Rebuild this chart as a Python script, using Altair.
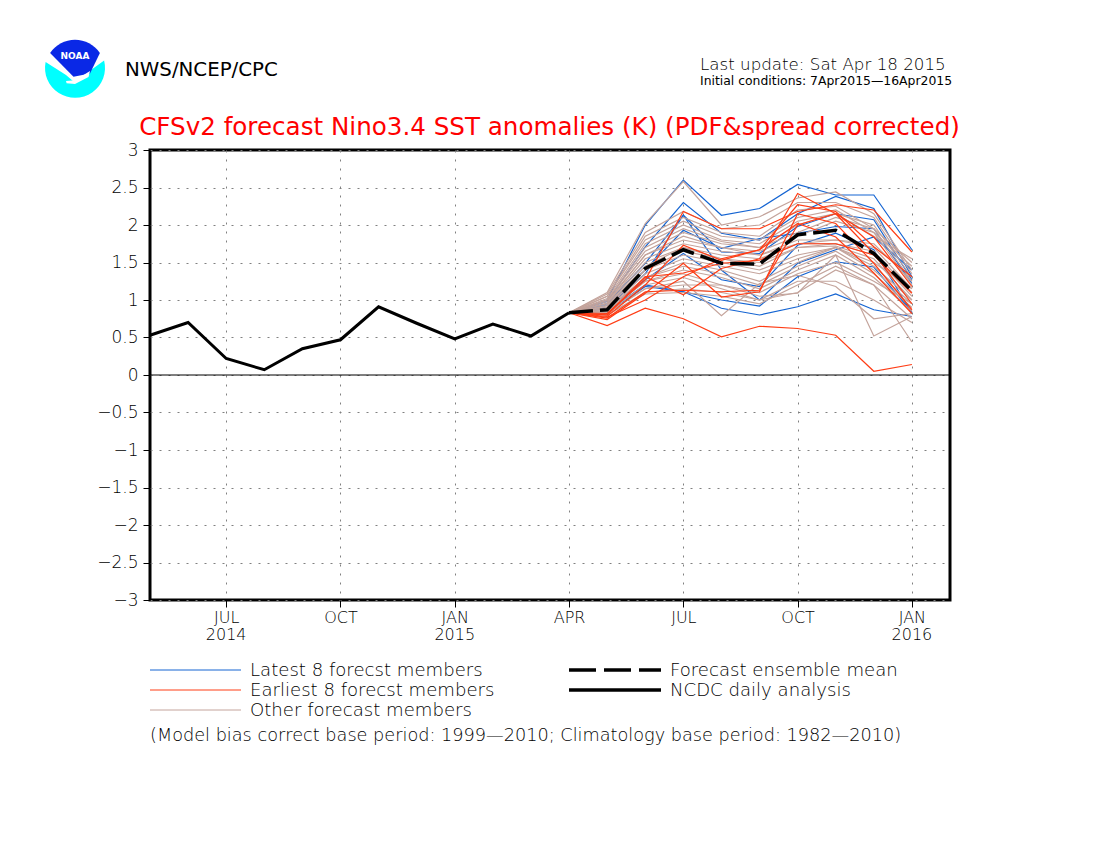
import altair as alt
import pandas as pd

# month index: 0 = May 2014 ... 21 = Feb 2016
x_tick_months = [2, 5, 8, 11, 14, 17, 20]
x_tick_labels = ["JUL", "OCT", "JAN", "APR", "JUL", "OCT", "JAN"]
year_months = [2, 8, 20]
year_labels = ["2014", "2015", "2016"]
y_ticks = [-3, -2.5, -2, -1.5, -1, -0.5, 0, 0.5, 1, 1.5, 2, 2.5, 3]

analysis_months = list(range(0, 12))
analysis_values = [0.53, 0.70, 0.22, 0.07, 0.35, 0.47, 0.91, 0.69, 0.48, 0.68, 0.52, 0.83]

forecast_months = list(range(11, 21))
mean_values = [0.83, 0.87, 1.42, 1.67, 1.49, 1.48, 1.87, 1.93, 1.62, 1.12]

latest_members = [
    [0.83, 1.00, 2.00, 2.60, 2.13, 2.22, 2.54, 2.40, 2.40, 1.67],
    [0.83, 0.98, 1.71, 2.30, 1.89, 1.80, 2.15, 2.38, 2.22, 1.31],
    [0.83, 0.95, 1.49, 2.13, 1.64, 1.62, 1.98, 2.15, 2.07, 1.27],
    [0.83, 0.93, 1.40, 1.93, 1.69, 1.82, 1.89, 1.98, 1.95, 1.22],
    [0.83, 0.90, 1.35, 2.13, 1.40, 1.00, 1.49, 1.67, 1.84, 1.40],
    [0.83, 0.88, 1.27, 1.62, 1.27, 1.18, 1.73, 1.89, 1.67, 0.82],
    [0.83, 0.82, 1.18, 1.11, 0.89, 0.80, 0.91, 1.08, 0.87, 0.78],
    [0.83, 0.85, 1.20, 1.11, 1.00, 0.92, 1.31, 1.51, 1.44, 0.84],
]
earliest_members = [
    [0.83, 0.66, 0.89, 0.75, 0.51, 0.65, 0.62, 0.53, 0.05, 0.14],
    [0.83, 0.82, 1.27, 2.18, 1.95, 1.95, 2.18, 2.27, 2.20, 1.64],
    [0.83, 0.80, 1.31, 1.07, 1.42, 1.55, 2.42, 2.15, 1.62, 0.95],
    [0.83, 0.78, 1.20, 1.73, 1.53, 1.67, 2.27, 2.18, 1.71, 1.31],
    [0.83, 0.76, 1.11, 1.13, 1.11, 1.13, 2.00, 2.15, 1.84, 1.18],
    [0.83, 0.80, 1.31, 1.36, 1.49, 1.53, 1.75, 1.75, 1.60, 1.09],
    [0.83, 0.74, 1.09, 1.49, 1.04, 1.11, 2.15, 2.02, 1.49, 0.87],
    [0.83, 0.77, 1.00, 1.31, 1.55, 1.67, 2.02, 1.84, 1.36, 0.82],
]
other_members = [
    [0.83, 1.10, 2.02, 2.58, 2.00, 2.11, 2.36, 2.44, 2.15, 1.40],
    [0.83, 1.08, 1.90, 2.18, 1.95, 2.00, 2.30, 2.30, 2.10, 1.35],
    [0.83, 1.05, 1.85, 2.10, 1.90, 1.85, 2.20, 2.25, 1.95, 1.50],
    [0.83, 1.05, 1.80, 2.05, 1.85, 1.80, 2.10, 2.20, 1.90, 1.45],
    [0.83, 1.02, 1.75, 2.00, 1.80, 1.75, 2.05, 2.15, 1.85, 1.55],
    [0.83, 1.00, 1.70, 1.95, 1.78, 1.70, 2.00, 2.15, 2.00, 1.30],
    [0.83, 1.00, 1.65, 1.90, 1.75, 1.70, 1.90, 2.10, 1.95, 1.25],
    [0.83, 0.98, 1.60, 1.85, 1.70, 1.65, 1.85, 2.05, 1.90, 1.20],
    [0.83, 0.96, 1.60, 1.80, 1.70, 1.60, 1.75, 1.80, 1.75, 1.25],
    [0.83, 0.95, 1.55, 1.75, 1.65, 1.60, 1.80, 1.80, 1.70, 1.15],
    [0.83, 0.93, 1.50, 1.70, 1.60, 1.55, 1.75, 1.75, 1.65, 1.10],
    [0.83, 0.92, 1.45, 1.70, 1.55, 1.50, 1.70, 1.75, 1.60, 1.05],
    [0.83, 0.90, 1.40, 1.65, 1.55, 1.45, 1.70, 1.72, 1.55, 1.00],
    [0.83, 0.90, 1.40, 1.60, 1.50, 1.40, 1.60, 1.70, 1.50, 1.15],
    [0.83, 0.88, 1.35, 1.55, 1.45, 1.35, 1.55, 1.70, 1.45, 1.00],
    [0.83, 0.88, 1.30, 1.50, 1.40, 1.25, 1.50, 1.70, 1.40, 0.95],
    [0.83, 0.86, 1.30, 1.45, 1.35, 1.20, 1.45, 1.65, 1.35, 0.90],
    [0.83, 0.85, 1.25, 1.40, 1.30, 1.15, 1.40, 1.60, 1.30, 0.85],
    [0.83, 0.85, 1.25, 1.35, 1.20, 1.10, 1.35, 1.50, 1.25, 0.95],
    [0.83, 0.84, 1.20, 1.30, 1.15, 1.00, 1.25, 1.25, 1.00, 0.70],
    [0.83, 0.82, 1.15, 1.25, 0.79, 1.22, 1.33, 1.18, 0.75, 0.82],
    [0.83, 0.83, 1.15, 1.20, 1.20, 1.05, 1.09, 1.60, 0.52, 0.78],
    [0.83, 0.80, 1.10, 1.15, 1.10, 1.00, 1.10, 1.40, 1.20, 0.44],
    [0.83, 0.80, 1.08, 1.10, 1.05, 0.95, 1.20, 1.45, 1.20, 0.75],
]

BLUE = "#1464d2"
RED = "#ff3c14"
TAN = "#c4a49c"
FONT = "DejaVu Sans"
GRID = "#808080"
THIN = 200

x_scale = alt.Scale(domain=[0, 21], nice=False, zero=False)
y_scale = alt.Scale(domain=[-3, 3], nice=False, zero=False)

x_enc = alt.X(
    "month:Q", scale=x_scale, title=None,
    axis=alt.Axis(
        values=x_tick_months,
        labelExpr="%s[(datum.value-2)/3]" % str(x_tick_labels),
        grid=True, gridColor=GRID, gridDash=[2, 7], gridWidth=1,
        domain=False, tickColor="black", tickSize=7, tickWidth=1,
        labelFont=FONT, labelFontSize=16, labelFontWeight=THIN, labelColor="black",
        labelPadding=2, labelOverlap=False, labelFlush=False,
    ),
)
y_enc = alt.Y(
    "value:Q", scale=y_scale, title=None,
    axis=alt.Axis(
        values=y_ticks, format="~g",
        grid=True, gridColor=GRID, gridDash=[2, 7], gridWidth=1,
        domain=False, tickColor="black", tickSize=7, tickWidth=1,
        labelFont=FONT, labelFontSize=17, labelFontWeight=THIN, labelColor="black",
        labelPadding=5, labelOverlap=False, labelFlush=False,
    ),
)


def long_frame(months, rows):
    return pd.DataFrame(
        [{"member": i, "month": m, "value": v}
         for i, row in enumerate(rows) for m, v in zip(months, row)]
    )


def members(rows, color):
    return alt.Chart(long_frame(forecast_months, rows)).mark_line(
        color=color, strokeWidth=1.2
    ).encode(x=x_enc, y=y_enc, detail="member:N")


ONE = alt.Data(values=[{"a": 1}])


def label(text, px, py, size, color="black", align="left", weight=THIN):
    return alt.Chart(ONE).mark_text(
        text=text, font=FONT, fontSize=size, color=color, align=align,
        baseline="middle", fontWeight=weight,
    ).encode(x=alt.value(px - 150), y=alt.value(py - 150))


def legend_line(x0, x1, py, color, width, dash=None):
    kw = {"strokeDash": dash} if dash else {}
    return alt.Chart(ONE).mark_rule(color=color, strokeWidth=width, **kw).encode(
        x=alt.value(x0 - 150), x2=alt.value(x1 - 150), y=alt.value(py - 150)
    )


def logo_part(path, color):
    return alt.Chart(ONE).mark_point(
        shape=path, filled=True, fill=color, opacity=1, size=3600
    ).encode(x=alt.value(75 - 150), y=alt.value(69.5 - 150))


zero_line = alt.Chart(pd.DataFrame({"value": [0]})).mark_rule(color="black", strokeWidth=1).encode(y=y_enc)

years = alt.Chart(pd.DataFrame({"month": year_months, "label": year_labels})).mark_text(
    font=FONT, fontSize=16, fontWeight=THIN, color="black", baseline="middle"
).encode(x=x_enc, y=alt.value(485), text="label:N")

analysis = alt.Chart(long_frame(analysis_months, [analysis_values])).mark_line(
    color="black", strokeWidth=3
).encode(x=x_enc, y=y_enc)
mean = alt.Chart(long_frame(forecast_months, [mean_values])).mark_line(
    color="black", strokeWidth=3.5, strokeDash=[24, 7]
).encode(x=x_enc, y=y_enc)

logo = [
    logo_part("M-0.98,-0.25 L-0.3,0.18 L-0.05,0.4 L0.3,0.3 L0.42,0.1 L0.97,-0.3 "
              "A1,1 0 1,1 -0.98,-0.25 Z", "#00ffff"),
    logo_part("M-0.83,-0.55 A1,1 0 0,1 0.83,-0.55 L0.5,0.13 L-0.05,0.24 Z", "#0a28e6"),
    logo_part("M-0.3,0.38 L0,0.36 L0.5,0.05 L0.45,0.25 L0,0.48 L-0.28,0.46 Z", "white"),
]

layers = [
    members(latest_members, BLUE),
    members(other_members, TAN),
    members(earliest_members, RED),
    zero_line,
    analysis,
    mean,
    years,
    *logo,
    label("NOAA", 75, 56, 9, "white", "center", 700),
    label("NWS/NCEP/CPC", 125, 70, 19.8, weight=400),
    label("Last update: Sat Apr 18 2015", 700, 65, 16.7),
    label("Initial conditions: 7Apr2015\u201416Apr2015", 700, 81, 12.4, weight=400),
    label("CFSv2 forecast Nino3.4 SST anomalies (K) (PDF&spread corrected)", 549.5, 128, 24.6, "#ff0000", "center", 400),
    legend_line(150, 241, 670, BLUE, 1),
    legend_line(150, 241, 690, RED, 1),
    legend_line(150, 241, 710, TAN, 1),
    legend_line(569, 661, 670, "black", 3.5, [27, 8]),
    legend_line(569, 661, 690, "black", 3.5),
    label("Latest 8 forecst members", 250, 671, 18.1),
    label("Earliest 8 forecst members", 250, 691, 18.1),
    label("Other forecast members", 250, 711, 18.1),
    label("Forecast ensemble mean", 670, 671, 18.1),
    label("NCDC daily analysis", 670, 691, 18.1),
    label("(Model bias correct base period: 1999\u20142010; Climatology base period: 1982\u20142010)",
          150, 736, 17.7),
]

chart = alt.layer(*layers).properties(
    width=800, height=450,
    padding={"left": 142, "top": 142, "right": 142, "bottom": 228},
    autosize=alt.AutoSizeParams(type="none"),
    background="white",
).resolve_scale(x="shared", y="shared").configure_view(stroke="black", strokeWidth=3)

chart.save("out.html", embed_options={"renderer": "svg", "actions": False})
